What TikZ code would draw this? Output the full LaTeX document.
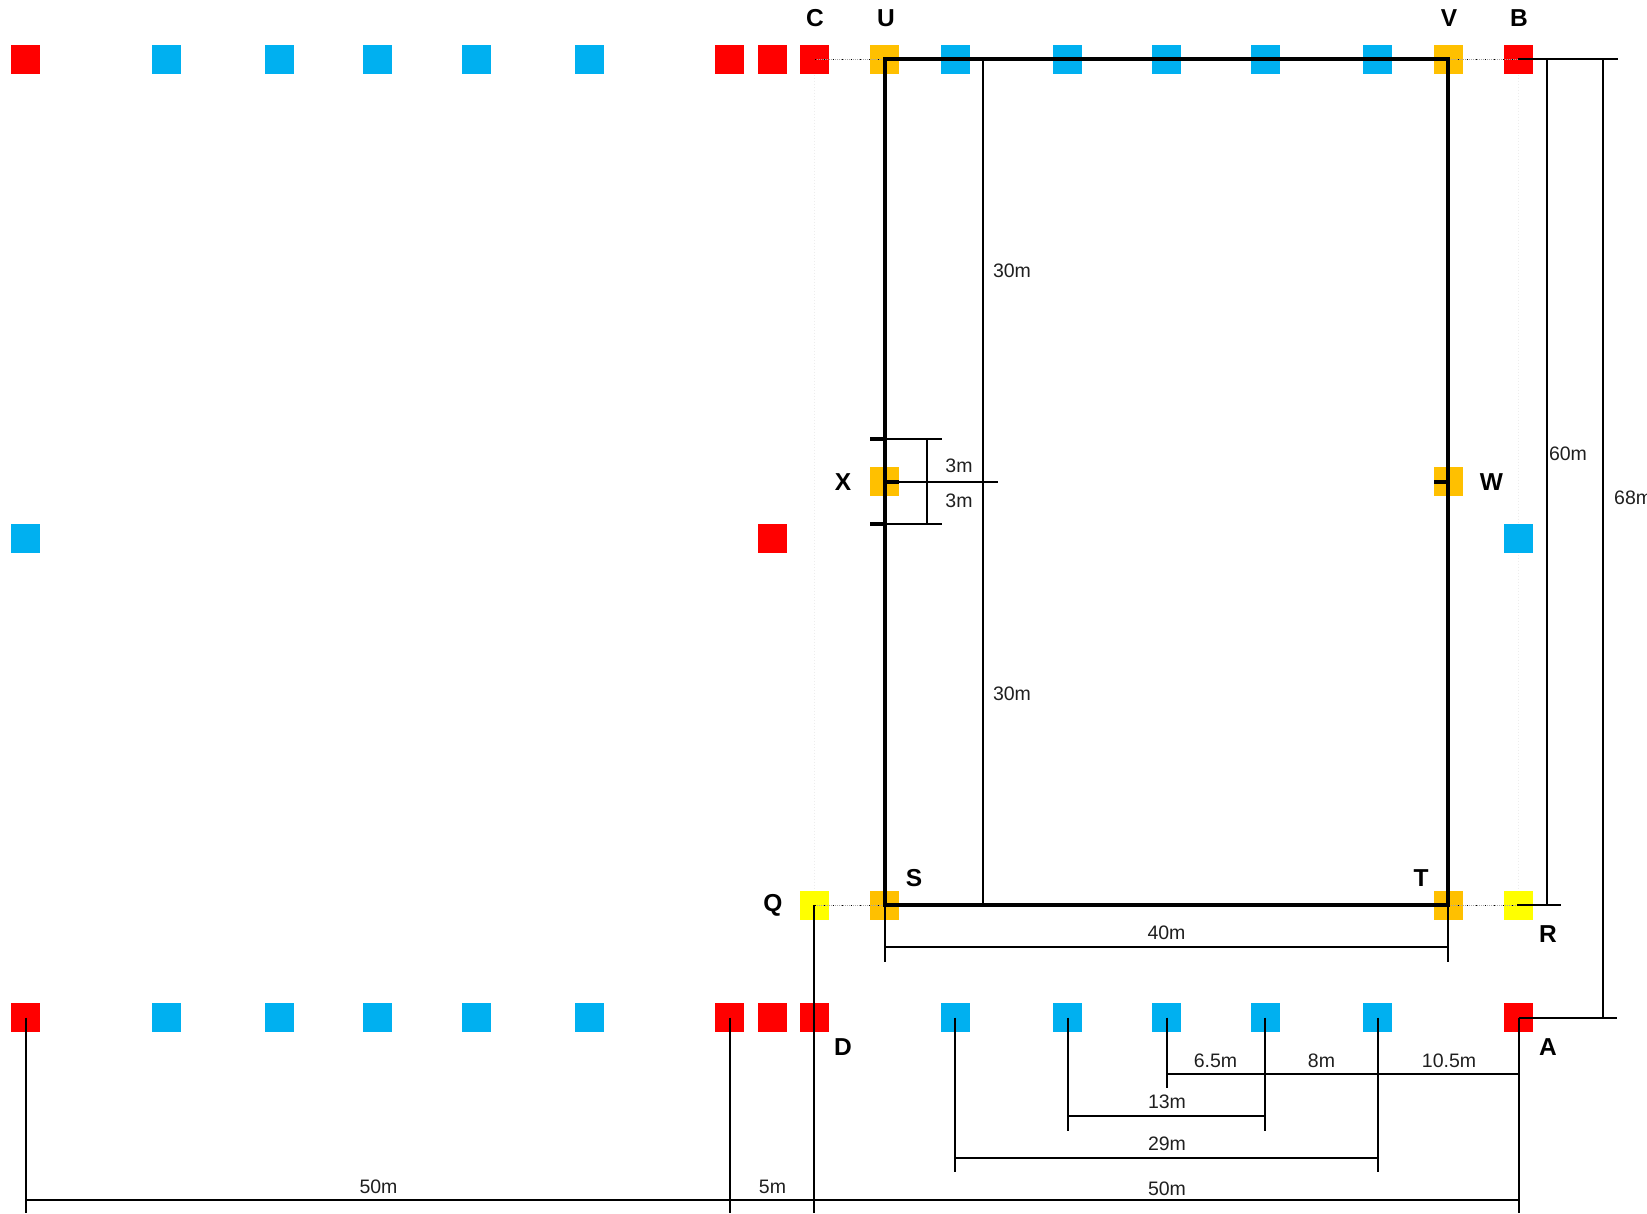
\documentclass[tikz,border=0pt]{standalone}
\usepackage{fontspec}
\setmainfont{Liberation Sans}
\pgfdeclarelayer{guides}
\pgfsetlayers{guides,main}
\tikzset{
  sq/.style={minimum size=29pt,inner sep=0pt,outer sep=0pt,draw=none},
  redsq/.style={sq,fill=sqred},
  bluesq/.style={sq,fill=sqblue},
  ambersq/.style={sq,fill=sqamber},
  yellowsq/.style={sq,fill=sqyellow},
  pointname/.style={inner sep=0pt,font=\fontsize{24.5}{26}\selectfont\bfseries},
  dimtext/.style={inner sep=0pt,text=black!88,font=\fontsize{19.5}{21}\selectfont},
  heavy/.style={line width=4pt,draw=black},
  dimline/.style={line width=2pt,draw=black},
  dotline/.style={draw=gray!70,line width=1pt,dash pattern=on 1pt off 1pt,
     postaction={draw=black,dash pattern=on 1pt off 8pt}},
  faintline/.style={draw=gray!14,line width=1pt,dash pattern=on 1pt off 2pt},
}
\definecolor{sqred}{HTML}{FF0000}
\definecolor{sqblue}{HTML}{00B0F0}
\definecolor{sqamber}{HTML}{FFC000}
\definecolor{sqyellow}{HTML}{FFFF00}
\begin{document}
\begin{tikzpicture}[x=1pt,y=-1.001pt]
\useasboundingbox (0,0) rectangle (1647,1212.2);
% top row
\node[redsq] (t1) at (25.5,59.5) {};
\node[bluesq] (t2) at (166,59.5) {};
\node[bluesq] (t3) at (279.5,59.5) {};
\node[bluesq] (t4) at (377.5,59.5) {};
\node[bluesq] (t5) at (476.5,59.5) {};
\node[bluesq] (t6) at (589.5,59.5) {};
\node[redsq] (t7) at (729.5,59.5) {};
\node[redsq] (t8) at (772.5,59.5) {};
\node[redsq] (c) at (814.5,59.5) {};
\node[ambersq] (u) at (884.5,59.5) {};
\node[bluesq] (t10) at (955.5,59.5) {};
\node[bluesq] (t11) at (1067.5,59.5) {};
\node[bluesq] (t12) at (1166.5,59.5) {};
\node[bluesq] (t13) at (1265.5,59.5) {};
\node[bluesq] (t14) at (1377.5,59.5) {};
\node[ambersq] (v) at (1448.5,59.5) {};
\node[redsq] (b) at (1518.5,59.5) {};
% middle
\node[bluesq] (m1) at (25.5,537.5) {};
\node[redsq] (m2) at (772.5,537.5) {};
\node[bluesq] (m3) at (1518.5,537.5) {};
\node[ambersq] (x) at (884.5,481.5) {};
\node[ambersq] (w) at (1448.5,481.5) {};
% goal line row
\node[yellowsq] (q) at (814.5,904.5) {};
\node[ambersq] (s) at (884.5,904.5) {};
\node[ambersq] (tt) at (1448.5,904.5) {};
\node[yellowsq] (r) at (1518.5,904.5) {};
% bottom row
\node[redsq] (d1) at (25.5,1016.5) {};
\node[bluesq] (d2) at (166,1016.5) {};
\node[bluesq] (d3) at (279.5,1016.5) {};
\node[bluesq] (d4) at (377.5,1016.5) {};
\node[bluesq] (d5) at (476.5,1016.5) {};
\node[bluesq] (d6) at (589.5,1016.5) {};
\node[redsq] (d7) at (729.5,1016.5) {};
\node[redsq] (d8) at (772.5,1016.5) {};
\node[redsq] (d) at (814.5,1016.5) {};
\node[bluesq] (d10) at (955.5,1016.5) {};
\node[bluesq] (d11) at (1067.5,1016.5) {};
\node[bluesq] (d12) at (1166.5,1016.5) {};
\node[bluesq] (d13) at (1265.5,1016.5) {};
\node[bluesq] (d14) at (1377.5,1016.5) {};
\node[redsq] (a) at (1518.5,1016.5) {};
% pitch corners and free ends
\coordinate (cu) at (885,59);
\coordinate (cv) at (1448,59);
\coordinate (ct) at (1448,904);
\coordinate (cs) at (885,904);
\coordinate (bh) at (1518,59);
\coordinate (rh) at (1517,904);
\coordinate (qv) at (814,904);
\coordinate (xtop) at (885,439);
\coordinate (xbot) at (885,523.5);
\coordinate (xtopL) at (870,439);
\coordinate (xbotL) at (870,523.5);
\coordinate (xtopR) at (942,439);
\coordinate (xbotR) at (942,523.5);
\coordinate (xmid) at (885,481.5);
\coordinate (xmidR) at (998,481.5);
\coordinate (xv1) at (927,439);
\coordinate (xv2) at (927,523.5);
\coordinate (h1) at (982.5,59);
\coordinate (h2) at (982.5,904);
\coordinate (d60a) at (1546.5,59);
\coordinate (d60b) at (1546.5,904);
\coordinate (d68a) at (1602.5,59);
\coordinate (d68b) at (1602.5,1016.5);
\coordinate (topR) at (1618,59);
\coordinate (rR) at (1561,904);
\coordinate (aR) at (1617,1016.5);
\coordinate (s40) at (885,961);
\coordinate (t40) at (1448,961);
\coordinate (s40m) at (885,946);
\coordinate (t40m) at (1448,946);
\coordinate (bot1) at (25.5,1212.2);
\coordinate (bot7) at (729.5,1212.2);
\coordinate (botq) at (814,1212.2);
\coordinate (bota) at (1518.5,1212.2);
\coordinate (h50l) at (25.5,1198.5);
\coordinate (h50r) at (1518.5,1198.5);
\coordinate (b10) at (955,1016.5);
\coordinate (e10) at (955,1171);
\coordinate (e11) at (1067.5,1130);
\coordinate (e12) at (1166.5,1087);
\coordinate (b13) at (1265,1016.5);
\coordinate (e13) at (1265,1130);
\coordinate (e14) at (1377.5,1171);
\coordinate (h65l) at (1166.5,1072.5);
\coordinate (h65r) at (1518.5,1072.5);
\coordinate (h13l) at (1067.5,1115);
\coordinate (h13r) at (1265,1115);
\coordinate (h29l) at (955,1157);
\coordinate (h29r) at (1377.5,1157);
% faint guides, under the squares
\begin{pgfonlayer}{guides}
\draw[faintline] (c.center) -- (q.center);
\draw[faintline] (b.center) -- (r.center);
\end{pgfonlayer}
% dotted guides
\draw[dotline] (c.center) -- (u.center);
\draw[dotline] (v.center) -- (b.center);
\draw[dotline] (q.center) -- (s.center);
\draw[dotline] (tt.center) -- (r.center);
% pitch
\draw[heavy] (cu) -- (cv) -- (ct) -- (cs) -- cycle;
\draw[heavy] (xtopL) -- (xtop);
\draw[heavy] (xbotL) -- (xbot);
\draw[heavy] (xmid) -- (x.east);
\draw[heavy] (w.west) -- (w.center);
% dimensions, pitch
\draw[dimline] (h1) -- (h2);
\draw[dimline] (xtop) -- (xtopR);
\draw[dimline] (xbot) -- (xbotR);
\draw[dimline] (xmid) -- (xmidR);
\draw[dimline] (xv1) -- (xv2);
\draw[dimline] (bh) -- (topR);
\draw[dimline] (rh) -- (rR);
\draw[dimline] (a.center) -- (aR);
\draw[dimline] (d60a) -- (d60b);
\draw[dimline] (d68a) -- (d68b);
\draw[dimline] (cs) -- (s40);
\draw[dimline] (ct) -- (t40);
\draw[dimline] (s40m) -- (t40m);
% dimensions, bottom
\draw[dimline] (d1.center) -- (bot1);
\draw[dimline] (d7.center) -- (bot7);
\draw[dimline] (qv) -- (botq);
\draw[dimline] (a.center) -- (bota);
\draw[dimline] (h50l) -- (h50r);
\draw[dimline] (b10) -- (e10);
\draw[dimline] (d11.center) -- (e11);
\draw[dimline] (d12.center) -- (e12);
\draw[dimline] (b13) -- (e13);
\draw[dimline] (d14.center) -- (e14);
\draw[dimline] (h65l) -- (h65r);
\draw[dimline] (h13l) -- (h13r);
\draw[dimline] (h29l) -- (h29r);
% point names
\node[pointname] (lc) at (815,18) {C};
\node[pointname] (lu) at (886,18) {U};
\node[pointname] (lv) at (1449,18) {V};
\node[pointname] (lb) at (1519,18) {B};
\node[pointname] (lx) at (843,482) {X};
\node[pointname] (lw) at (1491.5,482) {W};
\node[pointname] (lq) at (773,904) {Q};
\node[pointname] (ls) at (914,877) {S};
\node[pointname] (lt) at (1421,877) {T};
\node[pointname] (lr) at (1548,933) {R};
\node[pointname] (la) at (1548,1046) {A};
\node[pointname] (ld) at (843,1046) {D};
% dimension texts
\node[dimtext] (n1) at (1012,270.5) {30m};
\node[dimtext] (n2) at (1012,693.5) {30m};
\node[dimtext] (n3) at (959,465.5) {3m};
\node[dimtext] (n4) at (959,500) {3m};
\node[dimtext] (n5) at (1568,453.5) {60m};
\node[dimtext,anchor=west] (n6) at (1614,497) {68m};
\node[dimtext] (n7) at (1166.5,932) {40m};
\node[dimtext] (n8) at (1215.5,1060) {6.5m};
\node[dimtext] (n9) at (1321.5,1060) {8m};
\node[dimtext] (n10) at (1449,1060) {10.5m};
\node[dimtext] (n11) at (1167,1101) {13m};
\node[dimtext] (n12) at (1167,1143) {29m};
\node[dimtext] (n13) at (1167,1188) {50m};
\node[dimtext] (n14) at (378.5,1185.5) {50m};
\node[dimtext] (n15) at (772.5,1185.5) {5m};
\end{tikzpicture}
\end{document}
